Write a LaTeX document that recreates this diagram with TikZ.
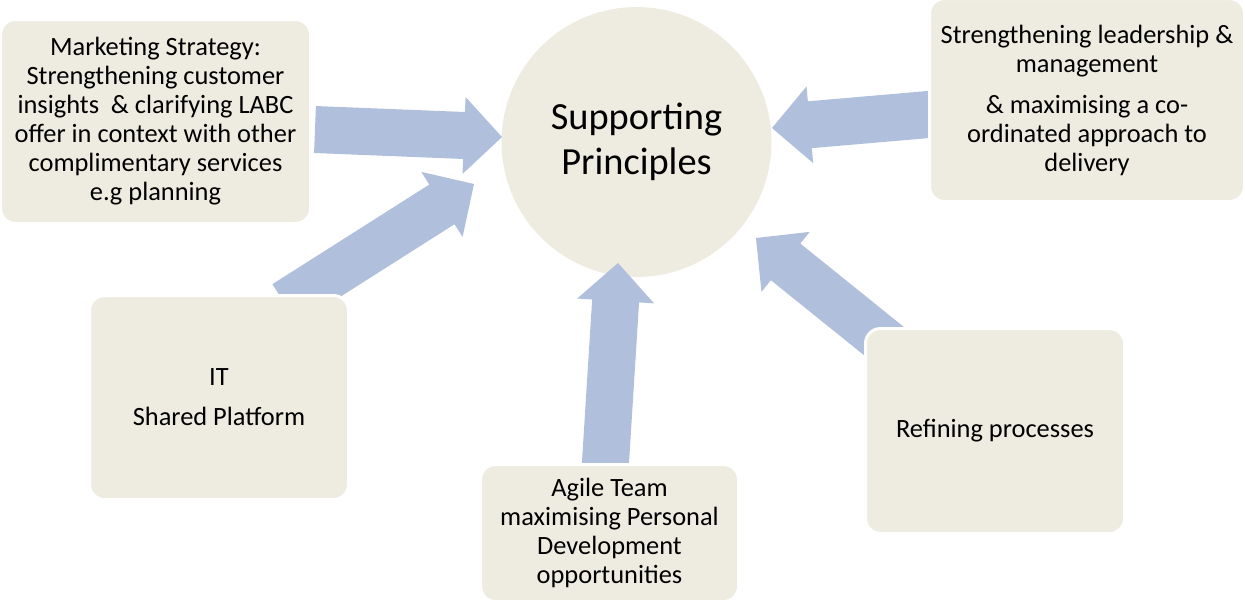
\documentclass[tikz,border=0pt]{standalone}
\usepackage{fontspec}
\setmainfont{Carlito}
\usetikzlibrary{calc}
\definecolor{eeece1}{rgb}{0.933,0.925,0.882}
\definecolor{afbfdc}{rgb}{0.686,0.749,0.863}

% fat block arrow from tail #1 to tip #2
\newcommand{\fatarrow}[2]{%
  \coordinate (#2base) at ($(#2)!19pt!(#1)$);
  \fill[arrowfill] ($(#1)!11.75pt!90:(#2)$) -- ($(#2base)!11.75pt!90:(#2)$)
    -- ($(#2base)!19.25pt!90:(#2)$) -- (#2) -- ($(#2base)!19.25pt!-90:(#2)$)
    -- ($(#2base)!11.75pt!-90:(#2)$) -- ($(#1)!11.75pt!-90:(#2)$) -- cycle;}

\begin{document}
\begin{tikzpicture}[x=0.5pt,y=-0.5pt,
  box/.style={rounded corners=7.5pt,fill=eeece1,draw=white,line width=1.5pt,
    align=center,inner sep=0pt,font=\fontsize{13.2pt}{14.5pt}\selectfont},
  hub/.style={circle,fill=eeece1,minimum size=135pt,inner sep=0pt,
    align=center,font=\fontsize{19.2pt}{22.5pt}\selectfont},
  arrowfill/.style={fill=afbfdc}]
\useasboundingbox (0,0) rectangle (1245,602);
\node[hub] (sp) at (636.5,142) {Supporting\\Principles};
% tails and tips of the arrows
\coordinate (tail1) at (315,129.5);
\coordinate (tip1) at (502,137);
\coordinate (tail2) at (285,304);
\coordinate (tip2) at (474,184);
\coordinate (tail3) at (605,470);
\coordinate (tip3) at (618,263);
\coordinate (tail4) at (895,350);
\coordinate (tip4) at (756,238);
\coordinate (tail5) at (940,113.5);
\coordinate (tip5) at (772,128);
\fatarrow{tail1}{tip1}
\fatarrow{tail2}{tip2}
\fatarrow{tail3}{tip3}
\fatarrow{tail4}{tip4}
\fatarrow{tail5}{tip5}
% the boxes
\node[box,minimum width=155pt,minimum height=102pt] (mkt) at (155.5,121.5)
  {Marketing Strategy:\\Strengthening customer\\insights~ \& clarifying LABC\\offer in context with other\\complimentary services\\e.g planning};
\node[box,minimum width=157.5pt,minimum height=101.5pt] (lead) at (1087,100)
  {Strengthening leadership \&\\management\\[6pt]\& maximising a co-\\ordinated approach to\\delivery};
\node[box,minimum width=129.5pt,minimum height=102pt] (it) at (219,397.5)
  {IT\\[5.5pt]Shared Platform};
\node[box,minimum width=129pt,minimum height=68.5pt] (agile) at (609.5,533)
  {Agile Team\\maximising Personal\\Development\\opportunities};
\node[box,minimum width=129.5pt,minimum height=102.5pt] (refine) at (995,431)
  {Refining processes};
\end{tikzpicture}
\end{document}
